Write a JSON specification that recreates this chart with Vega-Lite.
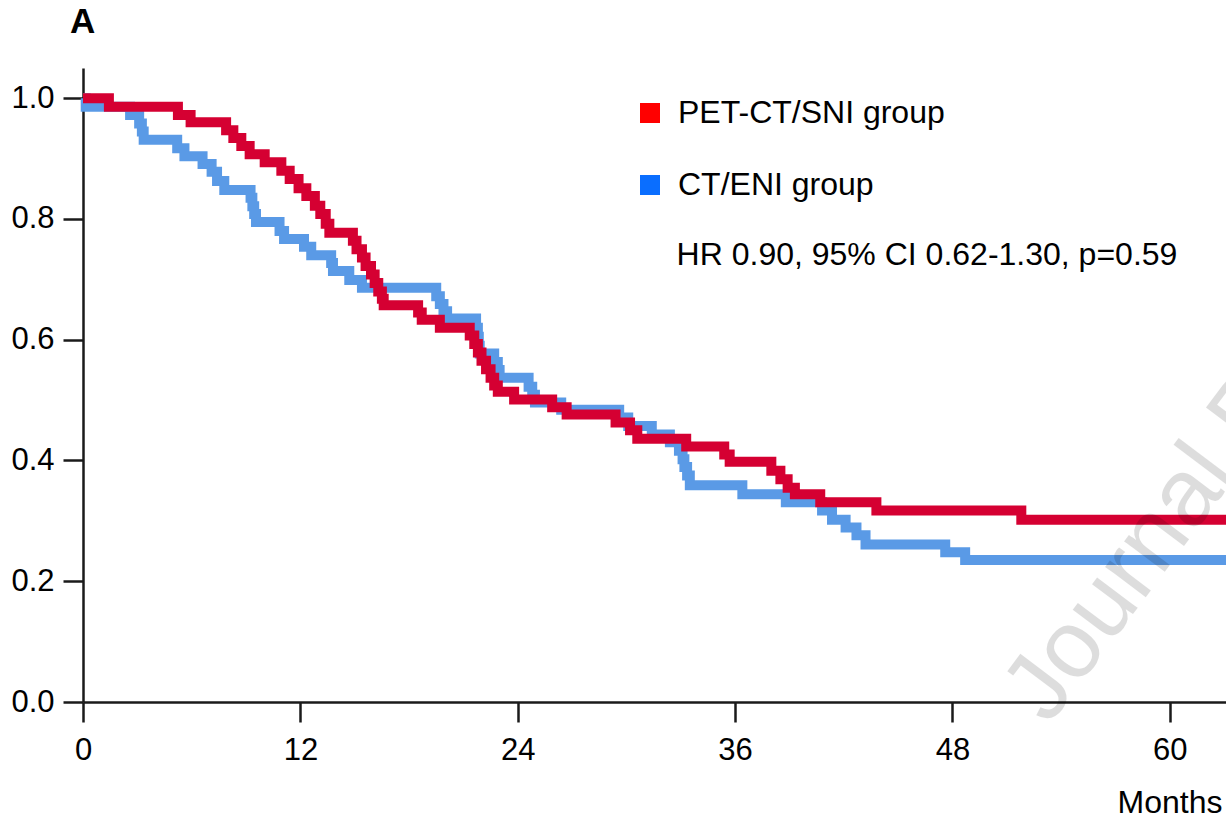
{
  "$schema": "https://vega.github.io/schema/vega-lite/v6.json",
  "width": 1143,
  "height": 634,
  "autosize": {"type": "none"},
  "padding": {"left": 83, "top": 68, "right": 0, "bottom": 116},
  "background": "white",
  "title": {"text": "A", "anchor": "start", "frame": "group", "fontSize": 35, "fontWeight": "bold", "font": "Liberation Sans", "color": "black", "dx": -13, "offset": 0, "baseline": "alphabetic"},
  "config": {
    "view": {"stroke": null},
    "font": "Liberation Sans",
    "axis": {"grid": false, "domainColor": "#1a1a1a", "domainWidth": 2.5, "tickColor": "#1a1a1a", "tickWidth": 2.5, "tickSize": 20, "labelColor": "black", "labelFontSize": 31, "labelFont": "Liberation Sans", "titleColor": "black"}
  },
  "datasets": {
    "km": [
      {"group": "PET-CT/SNI group", "month": 0, "surv": 1.0},
      {"group": "PET-CT/SNI group", "month": 1.43, "surv": 0.986},
      {"group": "PET-CT/SNI group", "month": 5.24, "surv": 0.972},
      {"group": "PET-CT/SNI group", "month": 5.94, "surv": 0.96},
      {"group": "PET-CT/SNI group", "month": 7.9, "surv": 0.947},
      {"group": "PET-CT/SNI group", "month": 8.3, "surv": 0.934},
      {"group": "PET-CT/SNI group", "month": 8.74, "surv": 0.921},
      {"group": "PET-CT/SNI group", "month": 9.2, "surv": 0.907},
      {"group": "PET-CT/SNI group", "month": 10.03, "surv": 0.894},
      {"group": "PET-CT/SNI group", "month": 10.95, "surv": 0.88},
      {"group": "PET-CT/SNI group", "month": 11.41, "surv": 0.866},
      {"group": "PET-CT/SNI group", "month": 11.9, "surv": 0.851},
      {"group": "PET-CT/SNI group", "month": 12.33, "surv": 0.838},
      {"group": "PET-CT/SNI group", "month": 12.8, "surv": 0.822},
      {"group": "PET-CT/SNI group", "month": 13.1, "surv": 0.808},
      {"group": "PET-CT/SNI group", "month": 13.4, "surv": 0.792},
      {"group": "PET-CT/SNI group", "month": 13.6, "surv": 0.777},
      {"group": "PET-CT/SNI group", "month": 14.9, "surv": 0.764},
      {"group": "PET-CT/SNI group", "month": 15.1, "surv": 0.75},
      {"group": "PET-CT/SNI group", "month": 15.4, "surv": 0.736},
      {"group": "PET-CT/SNI group", "month": 15.6, "surv": 0.722},
      {"group": "PET-CT/SNI group", "month": 15.9, "surv": 0.708},
      {"group": "PET-CT/SNI group", "month": 16.1, "surv": 0.694},
      {"group": "PET-CT/SNI group", "month": 16.3, "surv": 0.68},
      {"group": "PET-CT/SNI group", "month": 16.5, "surv": 0.668},
      {"group": "PET-CT/SNI group", "month": 16.6, "surv": 0.657},
      {"group": "PET-CT/SNI group", "month": 18.5, "surv": 0.645},
      {"group": "PET-CT/SNI group", "month": 18.7, "surv": 0.633},
      {"group": "PET-CT/SNI group", "month": 19.7, "surv": 0.62},
      {"group": "PET-CT/SNI group", "month": 21.35, "surv": 0.607},
      {"group": "PET-CT/SNI group", "month": 21.6, "surv": 0.593},
      {"group": "PET-CT/SNI group", "month": 21.8, "surv": 0.579},
      {"group": "PET-CT/SNI group", "month": 22.0, "surv": 0.565},
      {"group": "PET-CT/SNI group", "month": 22.25, "surv": 0.551},
      {"group": "PET-CT/SNI group", "month": 22.5, "surv": 0.537},
      {"group": "PET-CT/SNI group", "month": 22.7, "surv": 0.524},
      {"group": "PET-CT/SNI group", "month": 22.9, "surv": 0.514},
      {"group": "PET-CT/SNI group", "month": 23.8, "surv": 0.501},
      {"group": "PET-CT/SNI group", "month": 25.9, "surv": 0.488},
      {"group": "PET-CT/SNI group", "month": 26.7, "surv": 0.476},
      {"group": "PET-CT/SNI group", "month": 29.4, "surv": 0.463},
      {"group": "PET-CT/SNI group", "month": 30.2, "surv": 0.45},
      {"group": "PET-CT/SNI group", "month": 30.6, "surv": 0.436},
      {"group": "PET-CT/SNI group", "month": 33.3, "surv": 0.423},
      {"group": "PET-CT/SNI group", "month": 35.4, "surv": 0.41},
      {"group": "PET-CT/SNI group", "month": 35.7, "surv": 0.398},
      {"group": "PET-CT/SNI group", "month": 38.0, "surv": 0.383},
      {"group": "PET-CT/SNI group", "month": 38.5, "surv": 0.369},
      {"group": "PET-CT/SNI group", "month": 38.9, "surv": 0.355},
      {"group": "PET-CT/SNI group", "month": 39.3, "surv": 0.344},
      {"group": "PET-CT/SNI group", "month": 40.7, "surv": 0.331},
      {"group": "PET-CT/SNI group", "month": 43.8, "surv": 0.317},
      {"group": "PET-CT/SNI group", "month": 51.8, "surv": 0.302},
      {"group": "PET-CT/SNI group", "month": 63.1, "surv": 0.302},
      {"group": "CT/ENI group", "month": 0, "surv": 1.0},
      {"group": "CT/ENI group", "month": 0.15, "surv": 0.986},
      {"group": "CT/ENI group", "month": 2.6, "surv": 0.972},
      {"group": "CT/ENI group", "month": 3.1, "surv": 0.958},
      {"group": "CT/ENI group", "month": 3.25, "surv": 0.945},
      {"group": "CT/ENI group", "month": 3.35, "surv": 0.931},
      {"group": "CT/ENI group", "month": 5.2, "surv": 0.917},
      {"group": "CT/ENI group", "month": 5.6, "surv": 0.904},
      {"group": "CT/ENI group", "month": 6.6, "surv": 0.891},
      {"group": "CT/ENI group", "month": 7.1, "surv": 0.878},
      {"group": "CT/ENI group", "month": 7.4, "surv": 0.863},
      {"group": "CT/ENI group", "month": 7.8, "surv": 0.848},
      {"group": "CT/ENI group", "month": 9.25, "surv": 0.835},
      {"group": "CT/ENI group", "month": 9.35, "surv": 0.821},
      {"group": "CT/ENI group", "month": 9.45, "surv": 0.808},
      {"group": "CT/ENI group", "month": 9.55, "surv": 0.795},
      {"group": "CT/ENI group", "month": 10.85, "surv": 0.78},
      {"group": "CT/ENI group", "month": 11.1, "surv": 0.767},
      {"group": "CT/ENI group", "month": 12.2, "surv": 0.754},
      {"group": "CT/ENI group", "month": 12.6, "surv": 0.74},
      {"group": "CT/ENI group", "month": 13.7, "surv": 0.727},
      {"group": "CT/ENI group", "month": 13.8, "surv": 0.714},
      {"group": "CT/ENI group", "month": 14.7, "surv": 0.699},
      {"group": "CT/ENI group", "month": 15.4, "surv": 0.686},
      {"group": "CT/ENI group", "month": 19.5, "surv": 0.672},
      {"group": "CT/ENI group", "month": 19.7, "surv": 0.659},
      {"group": "CT/ENI group", "month": 19.9, "surv": 0.647},
      {"group": "CT/ENI group", "month": 20.1, "surv": 0.635},
      {"group": "CT/ENI group", "month": 21.7, "surv": 0.62},
      {"group": "CT/ENI group", "month": 21.8, "surv": 0.605},
      {"group": "CT/ENI group", "month": 21.85, "surv": 0.59},
      {"group": "CT/ENI group", "month": 21.9, "surv": 0.577},
      {"group": "CT/ENI group", "month": 22.7, "surv": 0.563},
      {"group": "CT/ENI group", "month": 22.9, "surv": 0.55},
      {"group": "CT/ENI group", "month": 23.0, "surv": 0.537},
      {"group": "CT/ENI group", "month": 24.6, "surv": 0.522},
      {"group": "CT/ENI group", "month": 24.8, "surv": 0.509},
      {"group": "CT/ENI group", "month": 24.95, "surv": 0.496},
      {"group": "CT/ENI group", "month": 26.4, "surv": 0.484},
      {"group": "CT/ENI group", "month": 29.6, "surv": 0.471},
      {"group": "CT/ENI group", "month": 30.1, "surv": 0.457},
      {"group": "CT/ENI group", "month": 31.4, "surv": 0.443},
      {"group": "CT/ENI group", "month": 32.4, "surv": 0.43},
      {"group": "CT/ENI group", "month": 32.9, "surv": 0.416},
      {"group": "CT/ENI group", "month": 33.1, "surv": 0.402},
      {"group": "CT/ENI group", "month": 33.2, "surv": 0.389},
      {"group": "CT/ENI group", "month": 33.35, "surv": 0.375},
      {"group": "CT/ENI group", "month": 33.5, "surv": 0.359},
      {"group": "CT/ENI group", "month": 36.4, "surv": 0.344},
      {"group": "CT/ENI group", "month": 38.8, "surv": 0.331},
      {"group": "CT/ENI group", "month": 40.8, "surv": 0.317},
      {"group": "CT/ENI group", "month": 41.35, "surv": 0.302},
      {"group": "CT/ENI group", "month": 42.1, "surv": 0.289},
      {"group": "CT/ENI group", "month": 42.7, "surv": 0.276},
      {"group": "CT/ENI group", "month": 43.2, "surv": 0.261},
      {"group": "CT/ENI group", "month": 47.6, "surv": 0.248},
      {"group": "CT/ENI group", "month": 48.7, "surv": 0.235},
      {"group": "CT/ENI group", "month": 63.1, "surv": 0.235}
    ],
    "notes": [
      {"note": "HR 0.90, 95% CI 0.62-1.30, p=0.59"}
    ],
    "watermark": [
      {"mark": "Journal Pre-proof"}
    ]
  },
  "layer": [
    {
      "data": {"name": "km"},
      "transform": [{"filter": "datum.group === 'CT/ENI group'"}],
      "mark": {"type": "line", "interpolate": "step-after", "strokeWidth": 10, "strokeCap": "butt", "strokeJoin": "miter"},
      "encoding": {
        "x": {"field": "month", "type": "quantitative", "scale": {"domain": [0, 63.1], "nice": false, "zero": false},
          "axis": {"values": [0, 12, 24, 36, 48, 60], "labelPadding": 13, "title": "Months", "titleFontSize": 32, "titleFontWeight": "normal", "titleFont": "Liberation Sans", "titleAlign": "right", "titleAnchor": null, "titleX": 1139, "titleY": 110, "titleBaseline": "alphabetic", "labelFlush": false}},
        "y": {"field": "surv", "type": "quantitative", "scale": {"domain": [0, 1.05], "nice": false},
          "axis": {"values": [0, 0.2, 0.4, 0.6, 0.8, 1.0], "format": ".1f", "labelPadding": 9, "title": null, "labelFlush": false}},
        "color": {"field": "group", "type": "nominal", "scale": {"domain": ["PET-CT/SNI group", "CT/ENI group"], "range": ["#d50032", "#5a9ae6"]},
          "legend": {"orient": "none", "legendX": 551, "legendY": 29, "title": null, "symbolType": "square", "symbolSize": 400, "symbolStrokeWidth": 0, "labelFontSize": 32, "labelFont": "Liberation Sans", "labelColor": "black", "labelOffset": 12, "labelLimit": 0, "rowPadding": 40, "padding": 0,
            "encode": {"symbols": {"update": {"fill": {"signal": "datum.value === 'PET-CT/SNI group' ? '#ff0000' : '#0a6eff'"}, "fillOpacity": {"value": 1}, "opacity": {"value": 1}, "strokeWidth": {"value": 0}}}}}}
      }
    },
    {
      "data": {"name": "km"},
      "transform": [{"filter": "datum.group === 'PET-CT/SNI group'"}],
      "mark": {"type": "line", "interpolate": "step-after", "strokeWidth": 10, "strokeCap": "butt", "strokeJoin": "miter"},
      "encoding": {
        "x": {"field": "month", "type": "quantitative"},
        "y": {"field": "surv", "type": "quantitative"},
        "color": {"field": "group", "type": "nominal"}
      }
    },
    {
      "data": {"name": "notes"},
      "mark": {"type": "text", "align": "left", "baseline": "middle", "fontSize": 32, "font": "Liberation Sans", "color": "black"},
      "encoding": {
        "x": {"datum": 32.77, "type": "quantitative"},
        "y": {"datum": 0.74, "type": "quantitative"},
        "text": {"field": "note"}
      }
    },
    {
      "data": {"name": "watermark"},
      "mark": {"type": "text", "align": "left", "baseline": "alphabetic", "fontSize": 96, "font": "Liberation Sans", "color": "black", "opacity": 0.13, "angle": -53},
      "encoding": {
        "x": {"datum": 53.3, "type": "quantitative"},
        "y": {"datum": -0.04, "type": "quantitative"},
        "text": {"field": "mark"}
      }
    }
  ]
}
